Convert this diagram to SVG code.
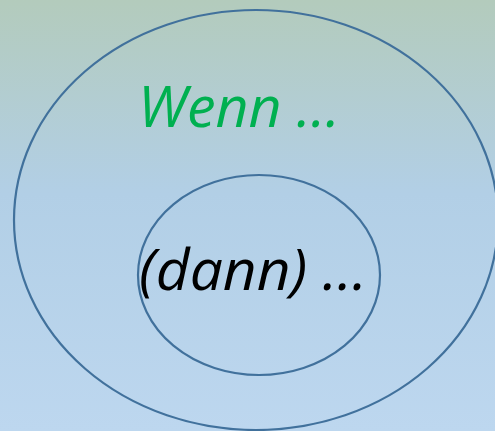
<svg xmlns="http://www.w3.org/2000/svg" width="495" height="431" viewBox="0 0 495 431">
<defs>
<linearGradient id="bg" x1="0" y1="0" x2="0" y2="1">
<stop offset="0" stop-color="#b3cbbc"/>
<stop offset="0.45" stop-color="#b2cfe6"/>
<stop offset="1" stop-color="#bdd7ef"/>
</linearGradient>
<style>
.ring{fill:none;stroke:#41719c;stroke-width:2.2}
.t{font-family:"Open Sans","Noto Sans",sans-serif;font-style:italic;font-size:56px}
</style>
</defs>
<rect width="495" height="431" fill="url(#bg)"/>
<g id="outer">
<ellipse class="ring" cx="256" cy="220" rx="242" ry="210"/>
<text class="t" x="138" y="127" fill="#00b050" textLength="202" lengthAdjust="spacingAndGlyphs">Wenn …</text>
</g>
<g id="inner">
<ellipse class="ring" cx="259" cy="275" rx="121" ry="100"/>
<text class="t" x="139" y="290" fill="#000000" textLength="228" lengthAdjust="spacingAndGlyphs">(dann) …</text>
</g>
</svg>
